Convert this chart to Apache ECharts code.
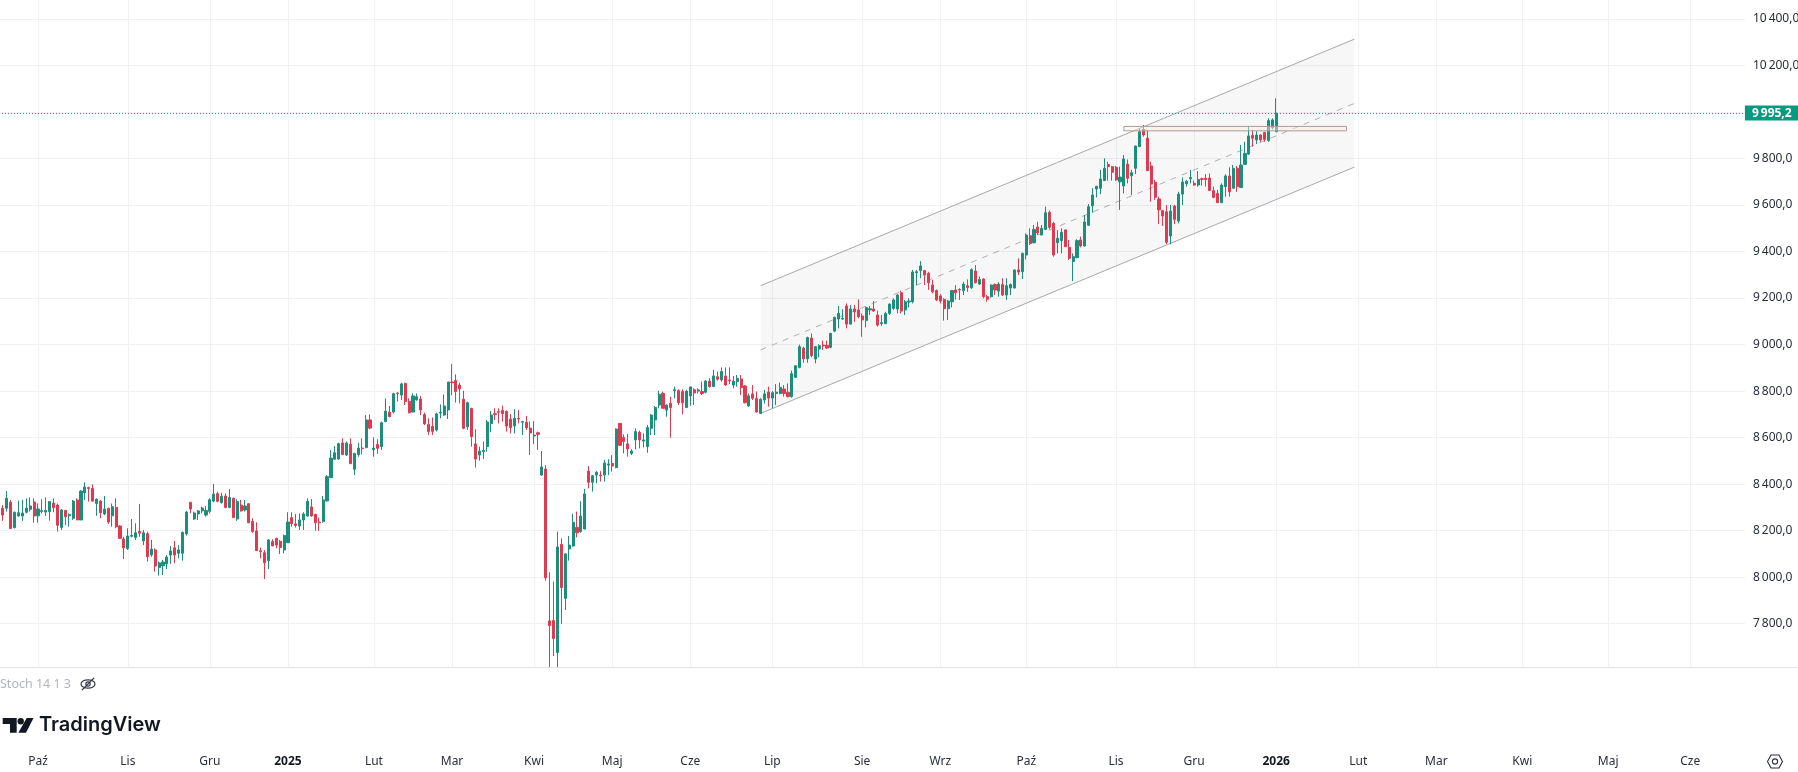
<!DOCTYPE html>
<html>
<head>
<meta charset="utf-8">
<style>
  html, body { margin: 0; padding: 0; background: #fff; }
  #chart { width: 1798px; height: 772px; }
</style>
<script src="https://cdn.jsdelivr.net/npm/echarts@6/dist/echarts.min.js"></script>
</head>
<body>
<div id="chart"></div>
<script>
const opens = [
  8317,8296,8296,8322,8213,8263,8263,8279,8292,8323,
  8264,8282,8280,8282,8319,8310,8214,8287,8264,8253,
  8332,8246,8363,8385,8382,8317,8327,8272,8296,8264,
  8300,8220,8164,8123,8176,8171,8197,8156,8187,8095,
  8117,8041,8049,8057,8095,8126,8103,8103,8186,8322,
  8250,8272,8285,8267,8283,8327,8359,8320,8349,8300,
  8339,8250,8310,8289,8316,8239,8199,8114,8105,8071,
  8153,8166,8154,8117,8148,8256,8229,8220,8246,8263,
  8302,8270,8237,8239,8328,8428,8507,8508,8577,8525,
  8571,8464,8527,8555,8557,8676,8548,8571,8561,8669,
  8710,8710,8792,8783,8833,8756,8710,8762,8766,8699,
  8657,8649,8633,8706,8697,8719,8839,8846,8826,8765,
  8647,8725,8573,8525,8539,8561,8660,8703,8712,8717,
  8713,8680,8650,8683,8666,8666,8641,8607,8621,8439,
  8465,7812,7814,7676,8141,7909,8121,8134,8214,8196,
  8207,8456,8408,8439,8439,8439,8482,8489,8471,8661,
  8601,8573,8532,8590,8623,8585,8561,8640,8676,8740,
  8790,8719,8747,8802,8802,8798,8729,8779,8806,8800,
  8798,8795,8843,8819,8862,8848,8865,8848,8826,8841,
  8852,8822,8736,8788,8769,8704,8762,8796,8770,8790,
  8790,8809,8795,8776,8859,8902,8985,8939,9028,8938,
  8981,8998,8997,8988,9058,9110,9110,9166,9088,9153,
  9149,9123,9103,9149,9153,9127,9090,9090,9134,9156,
  9153,9223,9149,9183,9184,9309,9318,9318,9306,9256,
  9232,9209,9194,9154,9184,9235,9237,9232,9253,9245,
  9316,9260,9282,9206,9206,9258,9230,9258,9213,9243,
  9243,9321,9313,9385,9468,9438,9505,9471,9495,9568,
  9521,9438,9447,9493,9418,9357,9374,9450,9424,9513,
  9597,9669,9672,9705,9774,9765,9762,9700,9682,9776,
  9726,9758,9851,9925,9888,9768,9698,9626,9576,9571,
  9467,9596,9531,9647,9692,9713,9693,9686,9713,9715,
  9716,9662,9650,9610,9679,9725,9672,9758,9675,9775,
  9819,9900,9880,9901,9912,9877,9933,9915,
];
const closes = [
  8296,8267,8339,8209,8279,8277,8276,8297,8306,8263,
  8293,8286,8287,8325,8299,8223,8289,8260,8269,8327,
  8246,8370,8388,8381,8327,8335,8277,8293,8237,8303,
  8217,8167,8126,8177,8180,8191,8189,8191,8088,8121,
  8048,8061,8065,8087,8113,8095,8117,8193,8280,8293,
  8276,8285,8297,8287,8333,8358,8326,8348,8300,8343,
  8256,8325,8285,8306,8234,8196,8114,8110,8062,8160,
  8134,8138,8128,8179,8237,8230,8222,8246,8272,8326,
  8263,8234,8234,8332,8432,8512,8535,8574,8527,8577,
  8488,8532,8555,8553,8676,8641,8555,8554,8664,8714,
  8690,8789,8790,8831,8755,8707,8779,8776,8719,8659,
  8626,8627,8702,8710,8736,8839,8836,8798,8809,8640,
  8750,8604,8508,8542,8545,8667,8697,8699,8709,8703,
  8650,8643,8683,8680,8669,8643,8620,8611,8614,8474,
  7997,7792,7736,8130,7955,8100,8138,8236,8191,8263,
  8358,8408,8436,8451,8436,8491,8487,8478,8637,8567,
  8583,8551,8542,8626,8590,8590,8643,8697,8730,8786,
  8726,8740,8729,8806,8750,8750,8800,8818,8792,8805,
  8790,8843,8819,8865,8851,8884,8826,8845,8843,8855,
  8815,8750,8780,8769,8710,8765,8788,8770,8793,8795,
  8816,8790,8776,8875,8909,8991,8939,9030,8952,8991,
  8995,8994,8985,9048,9117,9134,9113,9088,9153,9141,
  9120,9106,9159,9154,9144,9084,9094,9134,9174,9192,
  9213,9144,9184,9187,9312,9313,9338,9299,9266,9227,
  9192,9187,9154,9187,9232,9223,9235,9260,9245,9322,
  9266,9280,9206,9195,9256,9235,9260,9213,9253,9258,
  9321,9312,9392,9471,9435,9495,9480,9500,9567,9504,
  9385,9457,9483,9421,9371,9378,9447,9424,9527,9593,
  9643,9680,9712,9758,9765,9741,9708,9720,9798,9715,
  9739,9854,9915,9901,9748,9690,9633,9579,9553,9440,
  9574,9538,9647,9699,9702,9718,9686,9710,9710,9710,
  9662,9633,9610,9686,9725,9657,9758,9679,9772,9822,
  9897,9887,9901,9880,9882,9963,9966,9995.2,
];
const lows = [
  8289,8242,8282,8207,8210,8260,8242,8274,8282,8234,
  8234,8274,8263,8243,8279,8196,8203,8224,8217,8246,
  8246,8246,8332,8325,8325,8264,8253,8267,8229,8217,
  8210,8164,8078,8117,8171,8160,8174,8138,8067,8088,
  8024,8007,8009,8035,8057,8060,8081,8071,8179,8275,
  8246,8246,8274,8260,8274,8322,8322,8317,8296,8296,
  8256,8242,8282,8282,8232,8191,8113,8081,7992,8035,
  8134,8124,8100,8103,8148,8217,8213,8203,8203,8260,
  8260,8200,8199,8234,8325,8425,8507,8504,8525,8521,
  8487,8439,8518,8528,8554,8636,8518,8530,8547,8666,
  8687,8704,8755,8762,8740,8704,8709,8759,8697,8654,
  8611,8611,8626,8683,8694,8680,8783,8750,8747,8636,
  8633,8561,8471,8501,8508,8540,8623,8676,8661,8669,
  8626,8618,8618,8661,8611,8633,8525,8573,8547,8435,
  7985,7614,7661,7614,7799,7859,8071,8131,8171,8191,
  8206,8382,8368,8404,8411,8411,8439,8454,8468,8564,
  8532,8518,8525,8550,8554,8558,8535,8611,8611,8726,
  8726,8690,8600,8769,8740,8700,8729,8737,8740,8790,
  8783,8790,8815,8819,8845,8841,8822,8830,8812,8819,
  8783,8747,8733,8762,8707,8704,8747,8733,8726,8740,
  8786,8776,8773,8772,8859,8898,8922,8922,8945,8919,
  8945,8977,8981,8984,9053,9070,9106,9070,9087,9098,
  9113,9034,9074,9127,9141,9077,9081,9088,9127,9149,
  9134,9134,9127,9160,9177,9256,9285,9256,9235,9220,
  9187,9177,9103,9106,9160,9194,9192,9213,9227,9239,
  9263,9256,9199,9184,9202,9213,9206,9209,9192,9213,
  9242,9299,9282,9366,9428,9435,9471,9471,9493,9495,
  9378,9392,9392,9421,9364,9273,9371,9418,9421,9510,
  9567,9633,9647,9705,9705,9705,9705,9579,9650,9693,
  9643,9733,9851,9894,9746,9614,9622,9518,9510,9432,
  9431,9518,9521,9600,9679,9693,9683,9679,9683,9679,
  9662,9629,9610,9610,9636,9636,9672,9657,9675,9772,
  9815,9851,9862,9872,9872,9872,9925,9915,
];
const highs = [
  8322,8310,8370,8332,8282,8329,8332,8339,8343,8339,
  8317,8335,8343,8325,8339,8317,8293,8289,8274,8332,
  8339,8375,8408,8389,8399,8339,8332,8349,8299,8317,
  8339,8224,8174,8210,8250,8232,8315,8203,8196,8160,
  8124,8067,8074,8095,8134,8156,8138,8196,8285,8322,
  8282,8289,8303,8306,8339,8401,8368,8363,8360,8379,
  8342,8335,8332,8332,8317,8253,8236,8128,8117,8164,
  8163,8170,8160,8184,8279,8279,8272,8274,8279,8339,
  8336,8272,8257,8349,8439,8547,8564,8578,8597,8583,
  8597,8535,8578,8597,8697,8700,8601,8593,8669,8769,
  8736,8793,8795,8836,8836,8769,8790,8790,8779,8707,
  8683,8687,8707,8743,8786,8839,8916,8872,8836,8802,
  8755,8729,8636,8561,8583,8676,8714,8726,8726,8737,
  8716,8702,8722,8719,8671,8693,8669,8671,8626,8542,
  8482,8021,7981,8196,8167,8103,8177,8272,8282,8327,
  8379,8478,8439,8456,8456,8504,8507,8525,8640,8661,
  8614,8616,8550,8640,8630,8618,8654,8701,8736,8802,
  8798,8743,8776,8819,8808,8808,8805,8819,8812,8812,
  8841,8848,8855,8891,8884,8902,8902,8902,8865,8869,
  8869,8826,8790,8826,8798,8769,8805,8819,8800,8830,
  8836,8826,8833,8888,8912,9000,8991,9034,9048,8994,
  9002,9017,9017,9051,9120,9166,9152,9177,9170,9170,
  9194,9134,9163,9166,9187,9146,9127,9141,9177,9199,
  9217,9232,9192,9199,9321,9321,9359,9321,9313,9278,
  9237,9217,9199,9192,9235,9256,9242,9270,9280,9328,
  9342,9292,9285,9213,9259,9263,9268,9285,9285,9263,
  9323,9371,9396,9478,9500,9514,9528,9514,9593,9576,
  9528,9492,9500,9495,9450,9392,9453,9464,9557,9604,
  9672,9683,9751,9801,9786,9768,9768,9765,9815,9796,
  9751,9855,9930,9944,9923,9786,9708,9636,9579,9600,
  9600,9600,9657,9719,9708,9751,9705,9746,9718,9733,
  9736,9679,9665,9693,9732,9762,9772,9768,9858,9872,
  9940,9923,9918,9905,9915,9973,9973,10059,
];

// bar index of each month start, future months included
const monthIndex = [10, 33, 54, 74, 96, 116, 137, 157, 177, 198, 221, 241, 263, 286, 306, 327, 348, 368, 390, 412, 433];
const monthLabels = ["Paź", "Lis", "Gru", "2025", "Lut", "Mar", "Kwi", "Maj", "Cze", "Lip", "Sie", "Wrz", "Paź", "Lis", "Gru", "2026", "Lut", "Mar", "Kwi", "Maj", "Cze"];
const priceTicks = [7800, 8000, 8200, 8400, 8600, 8800, 9000, 9200, 9400, 9600, 9800, 10000, 10200, 10400];
// 10 000 sits under the last price tag, so it gets a gridline but no label
const priceLabels = [7800, 8000, 8200, 8400, 8600, 8800, 9000, 9200, 9400, 9600, 9800, 10200, 10400];
const lastPrice = 9995.2;

// drawn channel: first and last bar, then price at those bars
const channelBars = [195, 347];
const channelUpper = [9253, 10313];
const channelMiddle = [8977, 10037];
const channelLower = [8704, 9763];

// resistance box
const boxBars = [288, 345];
const boxPrices = [9919, 9938];

const barCount = 448;
const barStep = 3.906;
const categories = Array.from({ length: barCount }, (_, i) => String(i));
const candles = opens.map((o, i) => [o, closes[i], lows[i], highs[i]]);

const UP = "#1b8f7c";
const DOWN = "#e03a50";
const FONT = '"Noto Sans", sans-serif';

function formatPrice(v) {
  const [whole, dec] = v.toFixed(1).split(".");
  return whole.replace(/\B(?=(\d{3})+$)/g, "\u202f") + "," + dec;
}

function isMonthStart(index) {
  return monthIndex.includes(index);
}

function channelLine(values, extra) {
  return {
    type: "line",
    data: channelBars.map((b, i) => [b, values[i]]),
    showSymbol: false,
    silent: true,
    z: 3,
    lineStyle: Object.assign({ color: "#a8a8a8", width: 1 }, extra),
  };
}

function renderChannelFill(params, api) {
  const pts = [
    api.coord([channelBars[0], channelUpper[0]]),
    api.coord([channelBars[1], channelUpper[1]]),
    api.coord([channelBars[1], channelLower[1]]),
    api.coord([channelBars[0], channelLower[0]]),
  ];
  return { type: "polygon", shape: { points: pts }, style: { fill: "rgba(128,128,128,0.065)" } };
}

function renderBox(params, api) {
  const a = api.coord([boxBars[0], boxPrices[1]]);
  const b = api.coord([boxBars[1], boxPrices[0]]);
  return {
    type: "rect",
    shape: { x: a[0], y: a[1], width: b[0] - a[0], height: b[1] - a[1] },
    style: { fill: "rgba(255,235,225,0.45)", stroke: "#a89c9c", lineWidth: 1 },
  };
}

const chart = echarts.init(document.getElementById("chart"));
chart.setOption({
  animation: false,
  backgroundColor: "#ffffff",
  grid: {
    left: -1.06,
    top: 0,
    width: (barCount - 1) * barStep,
    height: 667.3,
    containLabel: false,
    outerBoundsMode: "none",
  },
  xAxis: {
    type: "category",
    data: categories,
    boundaryGap: false,
    axisLine: { show: false },
    axisTick: { show: false },
    splitLine: { show: true, interval: isMonthStart, lineStyle: { color: "#f0f1f4", width: 1 } },
    axisLabel: {
      interval: isMonthStart,
      margin: 88,
      color: "#2a2e39",
      fontFamily: FONT,
      fontSize: 12,
      formatter: (value) => {
        const label = monthLabels[monthIndex.indexOf(Number(value))];
        return /^\d+$/.test(label) ? `{year|${label}}` : label;
      },
      rich: { year: { fontFamily: FONT, fontSize: 12, fontWeight: "bold", color: "#131722" } },
    },
  },
  yAxis: {
    type: "value",
    position: "right",
    min: 7612.5,
    max: 10481.5,
    axisLine: { show: false },
    axisTick: { show: false, customValues: priceTicks },
    splitLine: { show: true, lineStyle: { color: "#f0f1f4", width: 1 } },
    axisLabel: {
      customValues: priceLabels,
      margin: 8,
      color: "#2a2e39",
      fontFamily: FONT,
      fontSize: 12,
      formatter: (v) => formatPrice(v),
    },
  },
  series: [
    {
      type: "custom",
      coordinateSystem: "cartesian2d",
      data: [0],
      renderItem: renderChannelFill,
      silent: true,
      clip: true,
      z: 1,
    },
    channelLine(channelUpper),
    channelLine(channelMiddle, { type: [6, 6], color: "#b0b0b0" }),
    channelLine(channelLower),
    {
      type: "candlestick",
      data: candles,
      barWidth: 2.6,
      z: 4,
      itemStyle: { color: UP, color0: DOWN, borderColor: UP, borderColor0: DOWN, borderWidth: 1 },
      markLine: {
        silent: true,
        symbol: "none",
        animation: false,
        data: [{ yAxis: lastPrice }],
        lineStyle: { type: [1, 2], color: "#1b8f7c", width: 1 },
        label: {
          position: "end",
          distance: 0,
          formatter: formatPrice(lastPrice),
          color: "#ffffff",
          fontFamily: FONT,
          fontSize: 12,
          fontWeight: "bold",
          backgroundColor: "#089981",
          padding: [2, 7, 1, 7],
        },
      },
    },
    {
      type: "custom",
      coordinateSystem: "cartesian2d",
      data: [0],
      renderItem: renderBox,
      silent: true,
      z: 5,
    },
  ],
  graphic: [
    { type: "line", silent: true, shape: { x1: 0, y1: 667.5, x2: 1798, y2: 667.5 }, style: { stroke: "#e0e3eb", lineWidth: 1 } },
    { type: "text", left: 0, top: 678, style: { text: "Stoch 14 1 3", fill: "#b2b5be", font: `12.5px ${FONT}` } },
    // crossed-out eye
    { type: "ellipse", shape: { cx: 88, cy: 684, rx: 7, ry: 4.2 }, style: { fill: "none", stroke: "#3a3e49", lineWidth: 1.2 } },
    { type: "circle", shape: { cx: 88, cy: 684, r: 2.2 }, style: { fill: "none", stroke: "#3a3e49", lineWidth: 1.2 } },
    { type: "line", shape: { x1: 82, y1: 690, x2: 94, y2: 678 }, style: { stroke: "#3a3e49", lineWidth: 1.2 } },
    // logo
    { type: "polygon", shape: { points: [[2.7, 718], [16.7, 718], [16.7, 732.7], [10, 732.7], [10, 724], [2.7, 724]] }, style: { fill: "#131722" } },
    { type: "circle", shape: { cx: 20.7, cy: 721.2, r: 3.2 }, style: { fill: "#131722" } },
    { type: "polygon", shape: { points: [[26.7, 718], [33.5, 718], [26, 732.7], [18.3, 732.7]] }, style: { fill: "#131722" } },
    { type: "text", left: 39, top: 715, style: { text: "TradingView", fill: "#131722", font: `600 20px Inter, sans-serif` } },
    // settings hexagon
    { type: "polygon", shape: { points: [[1767.5, 761.5], [1771, 755], [1779, 755], [1782.5, 761.5], [1779, 768], [1771, 768]] }, style: { fill: "none", stroke: "#2a2e39", lineWidth: 1.1 } },
    { type: "circle", shape: { cx: 1775, cy: 761.5, r: 2.6 }, style: { fill: "none", stroke: "#2a2e39", lineWidth: 1.1 } },
  ],
});
</script>
</body>
</html>
